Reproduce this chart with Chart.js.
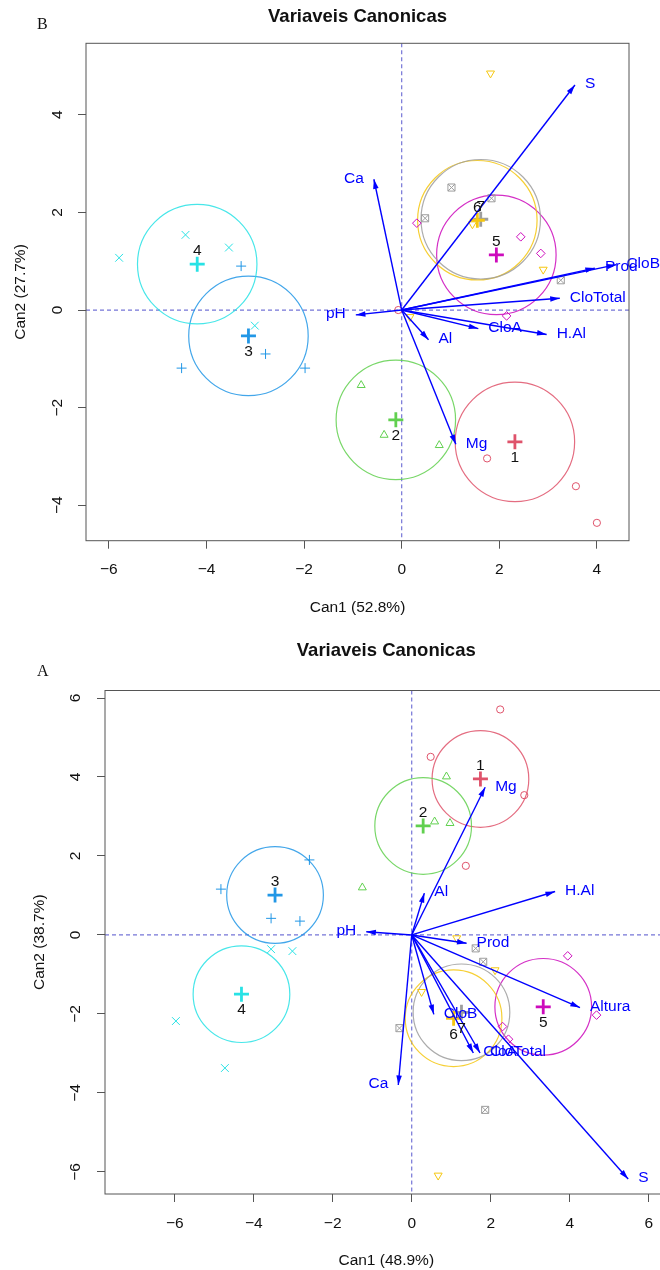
<!DOCTYPE html>
<html>
<head>
<meta charset="utf-8">
<script src="https://cdn.jsdelivr.net/npm/chart.js@4.4.0/dist/chart.umd.min.js"></script>
<style>
  html, body { margin: 0; padding: 0; background: #fff; width: 660px; height: 1270px; overflow: hidden; }
  .panel { position: absolute; left: 0; }
</style>
</head>
<body>
<div class="panel" style="top:0;width:660px;height:630px"><canvas id="chartB"></canvas></div>
<div class="panel" style="top:630px;width:680px;height:640px"><canvas id="chartA"></canvas></div>
<script>
// ---- data --------------------------------------------------------------
const groupNames = ["1", "2", "3", "4", "5", "6", "7"];
const chartTitle = "Variaveis Canonicas";
const ellipseRadius = 1.224; // 95% circle for the group means, canonical units

// panel B
const b_xTitle = "Can1 (52.8%)";
const b_yTitle = "Can2 (27.7%)";
const b_xTicks = [-6, -4, -2, 0, 2, 4];
const b_yTicks = [-4, -2, 0, 2, 4];
const b_varNames = ["S", "Ca", "pH", "Al", "CloA", "H.Al", "CloTotal", "Prod", "CloB", "Mg"];
const b_vecX = [3.55, -0.57, -0.94, 0.55, 1.57, 2.97, 3.24, 3.96, 4.40, 1.11];
const b_vecY = [4.61, 2.68, -0.10, -0.61, -0.38, -0.50, 0.24, 0.86, 0.93, -2.75];
const b_ptsX = [
  [-0.07, 1.75, 3.57, 4.00],
  [-0.83, -0.36, 0.77],
  [-3.29, -2.79, -4.51, -1.98],
  [-4.43, -3.54, -5.79, -3.01],
  [0.31, 2.44, 2.85, 2.15],
  [1.82, 1.45, 2.90, 0.17],
  [1.02, 1.84, 0.48, 3.26]
];
const b_ptsY = [
  [0.00, -3.04, -3.61, -4.36],
  [-1.54, -2.56, -2.77],
  [0.90, -0.90, -1.19, -1.19],
  [1.54, 1.28, 1.07, -0.32],
  [1.78, 1.50, 1.16, -0.12],
  [4.85, 1.76, 0.83, -0.14],
  [2.51, 2.29, 1.88, 0.61]
];
const b_cenX = [2.32, -0.12, -3.14, -4.19, 1.94, 1.55, 1.62];
const b_cenY = [-2.70, -2.25, -0.53, 0.94, 1.13, 1.84, 1.86];

// panel A
const a_xTitle = "Can1 (48.9%)";
const a_yTitle = "Can2 (38.7%)";
const a_xTicks = [-6, -4, -2, 0, 2, 4, 6];
const a_yTicks = [-6, -4, -2, 0, 2, 4, 6];
const a_varNames = ["S", "Ca", "pH", "Al", "H.Al", "Prod", "Altura", "CloB", "Mg", "CloA", "CloTotal"];
const a_vecX = [5.48, -0.34, -1.15, 0.32, 3.63, 1.39, 4.26, 0.56, 1.86, 1.56, 1.73];
const a_vecY = [-6.18, -3.80, 0.08, 1.06, 1.10, -0.21, -1.84, -2.01, 3.74, -2.99, -2.99];
const a_ptsX = [
  [2.24, 0.48, 2.85, 1.37],
  [0.88, 0.58, 0.97, -1.25],
  [-4.83, -2.59, -3.56, -2.83],
  [-3.56, -3.02, -5.97, -4.73],
  [3.95, 4.68, 2.30, 2.45],
  [1.14, 2.11, 0.25, 0.67],
  [1.62, 1.81, -0.31, 1.86]
];
const a_ptsY = [
  [5.71, 4.51, 3.54, 1.75],
  [4.01, 2.87, 2.83, 1.20],
  [1.16, 1.90, 0.42, 0.35],
  [-0.36, -0.41, -2.18, -3.37],
  [-0.53, -2.03, -2.32, -2.64],
  [-0.08, -0.89, -1.44, -6.09],
  [-0.34, -0.68, -2.36, -4.43]
];
const a_cenX = [1.74, 0.29, -3.46, -4.31, 3.33, 1.06, 1.26];
const a_cenY = [3.95, 2.76, 1.01, -1.50, -1.82, -2.11, -1.96];

// ---- style -------------------------------------------------------------
const groupColors = ["#DF536B", "#61D04F", "#2297E6", "#28E2E5", "#CD0BBC", "#F5C710", "#9E9E9E"];
const groupShapes = [
  {shape: 'circle', r: 3.6},
  {shape: 'triangle', r: 4.6},
  {shape: 'cross', r: 5},
  {shape: 'crossRot', r: 5.5},
  {shape: 'rectRot', r: 4.3},
  {shape: 'triangle', r: 4.6, rot: 180},
  {shape: 'rect', r: 5, inner: 'crossRot'}
];
const arrowColor = "#0000FF";
const axisColor = "#555";
const FONT = '"Liberation Sans", Arial, sans-serif';
Chart.defaults.font.family = FONT;

const minusFmt = v => v < 0 ? "\u2212" + (-v) : String(v);

function makeDeco(p) {
  return {
    id: 'deco',
    beforeDatasetsDraw(chart) {
      const {ctx, chartArea: a, scales: {x, y}} = chart;
      ctx.save();
      ctx.beginPath();
      ctx.rect(a.left, a.top, a.right - a.left, a.bottom - a.top);
      ctx.clip();
      // reference lines
      ctx.strokeStyle = "rgba(70,70,200,0.75)";
      ctx.lineWidth = 1.2;
      ctx.setLineDash([4, 3]);
      const x0 = x.getPixelForValue(0), y0 = y.getPixelForValue(0);
      ctx.beginPath();
      ctx.moveTo(x0, a.top); ctx.lineTo(x0, a.bottom);
      ctx.moveTo(a.left, y0); ctx.lineTo(a.right, y0);
      ctx.stroke();
      ctx.setLineDash([]);
      // group circles
      const rx = Math.abs(x.getPixelForValue(ellipseRadius) - x0);
      const ry = Math.abs(y.getPixelForValue(ellipseRadius) - y0);
      ctx.lineWidth = 1.2;
      p.cenX.forEach((cx, i) => {
        ctx.strokeStyle = groupColors[i];
        ctx.globalAlpha = 0.85;
        ctx.beginPath();
        ctx.ellipse(x.getPixelForValue(cx), y.getPixelForValue(p.cenY[i]), rx, ry, 0, 0, Math.PI * 2);
        ctx.stroke();
      });
      ctx.restore();
    },
    afterDatasetsDraw(chart) {
      const {ctx, chartArea: a, scales: {x, y}} = chart;
      ctx.save();
      const ox = x.getPixelForValue(0), oy = y.getPixelForValue(0);
      // arrow heads
      ctx.fillStyle = arrowColor;
      p.vecX.forEach((vx, i) => {
        const tx = x.getPixelForValue(vx), ty = y.getPixelForValue(p.vecY[i]);
        const ang = Math.atan2(ty - oy, tx - ox);
        const L = 10, w = 0.28;
        ctx.beginPath();
        ctx.moveTo(tx, ty);
        ctx.lineTo(tx - L * Math.cos(ang - w), ty - L * Math.sin(ang - w));
        ctx.lineTo(tx - L * Math.cos(ang + w), ty - L * Math.sin(ang + w));
        ctx.closePath();
        ctx.fill();
      });
      // variable labels
      ctx.font = '15.5px ' + FONT;
      ctx.textBaseline = 'middle';
      p.varNames.forEach((nm, i) => {
        const tx = x.getPixelForValue(p.vecX[i]), ty = y.getPixelForValue(p.vecY[i]);
        if (p.vecX[i] < 0) { ctx.textAlign = 'right'; ctx.fillText(nm, tx - 10, ty - 1); }
        else { ctx.textAlign = 'left'; ctx.fillText(nm, tx + 10, ty - 1); }
      });
      // group labels
      ctx.fillStyle = '#111';
      ctx.textAlign = 'center';
      groupNames.forEach((g, i) => {
        const cx = x.getPixelForValue(p.cenX[i]), cy = y.getPixelForValue(p.cenY[i]);
        ctx.fillText(g, cx, cy + (p.cenY[i] >= 0 ? -13 : 16));
      });
      // frame
      ctx.strokeStyle = axisColor;
      ctx.lineWidth = 1;
      ctx.strokeRect(a.left, a.top, a.right - a.left, a.bottom - a.top);
      // title and panel letter
      ctx.fillStyle = '#111';
      ctx.font = 'bold 18.5px ' + FONT;
      ctx.textAlign = 'center';
      ctx.fillText(chartTitle, (a.left + a.right) / 2, p.titleY);
      ctx.font = '16px "Liberation Serif", "Times New Roman", serif';
      ctx.textAlign = 'left';
      ctx.fillText(p.letter, 37, p.letterY);
      ctx.restore();
    }
  };
}

function buildChart(id, p) {
  const datasets = [];
  p.vecX.forEach((vx, i) => datasets.push({
    data: [{x: 0, y: 0}, {x: vx, y: p.vecY[i]}],
    showLine: true, borderColor: arrowColor, borderWidth: 1.4, pointRadius: 0, order: 0
  }));
  groupNames.forEach((g, i) => {
    const pts = p.ptsX[i].map((vx, j) => ({x: vx, y: p.ptsY[i][j]}));
    const st = groupShapes[i];
    datasets.push({
      data: pts, pointStyle: st.shape, pointRadius: st.r, pointRotation: st.rot || 0,
      pointBorderColor: groupColors[i], pointBackgroundColor: 'rgba(0,0,0,0)', pointBorderWidth: 1, order: 2
    });
    if (st.inner) datasets.push({
      data: pts, pointStyle: st.inner, pointRadius: st.r,
      pointBorderColor: groupColors[i], pointBackgroundColor: 'rgba(0,0,0,0)', pointBorderWidth: 1, order: 2
    });
    datasets.push({
      data: [{x: p.cenX[i], y: p.cenY[i]}], pointStyle: 'cross', pointRadius: 7.5,
      pointBorderColor: groupColors[i], pointBorderWidth: 2.8, order: 1
    });
  });

  return new Chart(document.getElementById(id), {
    type: 'scatter',
    data: {datasets},
    options: {
      responsive: true, maintainAspectRatio: false, animation: false, events: [],
      layout: {padding: p.pad},
      plugins: {legend: {display: false}, tooltip: {enabled: false}},
      scales: {
        x: {
          type: 'linear', min: p.xMin, max: p.xMax,
          afterBuildTicks: s => { s.ticks = p.xTicks.map(v => ({value: v})); },
          afterFit: s => { s.height = p.xAxisH; },
          grid: {drawOnChartArea: false, drawTicks: true, tickLength: 8, color: axisColor},
          border: {display: false},
          ticks: {padding: 12, color: '#111', font: {size: 15.5}, callback: minusFmt, maxRotation: 0, autoSkip: false},
          title: {display: true, text: p.xTitle, color: '#111', font: {size: 15.5}, padding: {top: 0, bottom: p.xTitlePad}}
        },
        y: {
          type: 'linear', min: p.yMin, max: p.yMax,
          afterBuildTicks: s => { s.ticks = p.yTicks.map(v => ({value: v})); },
          afterFit: s => { s.width = p.yAxisW; },
          grid: {drawOnChartArea: false, drawTicks: true, tickLength: 8, color: axisColor},
          border: {display: false},
          ticks: {padding: p.yTickPad, color: '#111', font: {size: 15.5}, callback: minusFmt,
                  minRotation: 90, maxRotation: 90, crossAlign: 'center', autoSkip: false},
          title: {display: true, text: p.yTitle, color: '#111', font: {size: 15.5}, padding: {top: p.yTitlePad, bottom: 0}}
        }
      }
    },
    plugins: [makeDeco(p)]
  });
}

buildChart('chartB', {
  varNames: b_varNames, vecX: b_vecX, vecY: b_vecY,
  ptsX: b_ptsX, ptsY: b_ptsY, cenX: b_cenX, cenY: b_cenY,
  xTicks: b_xTicks, yTicks: b_yTicks, xTitle: b_xTitle, yTitle: b_yTitle,
  xMin: -6.469, xMax: 4.658, yMin: -4.726, yMax: 5.465,
  pad: {left: 0, right: 31, top: 43.3, bottom: 0},
  xAxisH: 89.3, yAxisW: 86, xTitlePad: 12.7, yTitlePad: 11.4, yTickPad: 11,
  titleY: 17, letter: 'B', letterY: 25
});

buildChart('chartA', {
  varNames: a_varNames, vecX: a_vecX, vecY: a_vecY,
  ptsX: a_ptsX, ptsY: a_ptsY, cenX: a_cenX, cenY: a_cenY,
  xTicks: a_xTicks, yTicks: a_yTicks, xTitle: a_xTitle, yTitle: a_yTitle,
  xMin: -7.765, xMax: 6.476, yMin: -6.56, yMax: 6.19,
  pad: {left: 0, right: 12.5, top: 60.5, bottom: 0},
  xAxisH: 76, yAxisW: 105, xTitlePad: 0, yTitlePad: 30.7, yTickPad: 12,
  titleY: 21, letter: 'A', letterY: 42
});
</script>
</body>
</html>
